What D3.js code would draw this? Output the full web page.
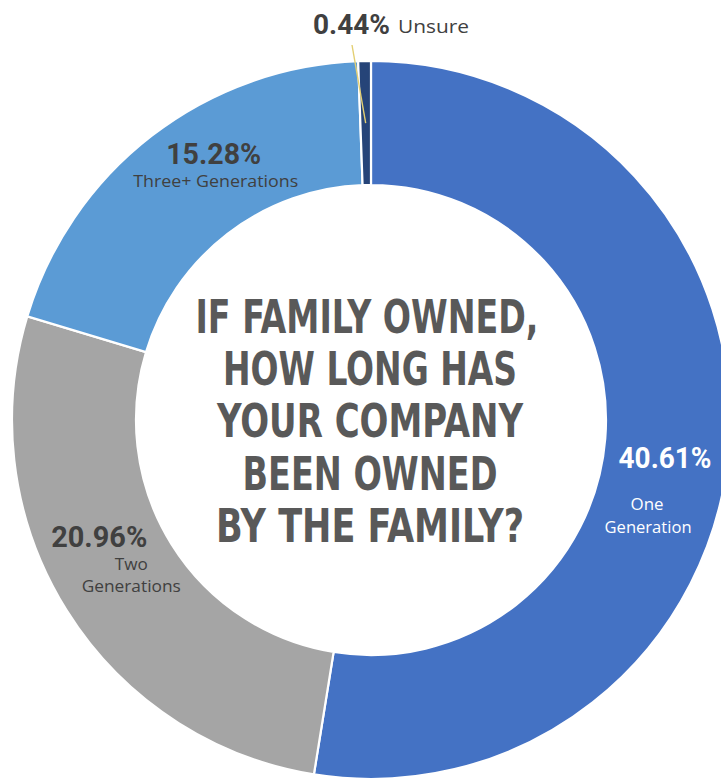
<!DOCTYPE html>
<html>
<head>
<meta charset="utf-8">
<script src="https://cdn.jsdelivr.net/npm/d3@7"></script>
<style>
  html, body { margin: 0; padding: 0; background: #ffffff; }
  svg { display: block; }
</style>
</head>
<body>
<svg id="chart" width="721" height="779"></svg>
<script>
// Survey answers: how long the family has owned the company
const categories = ["One Generation", "Two Generations", "Three+ Generations", "Unsure"];
const percentages = [40.61, 20.96, 15.28, 0.44];
const sliceColors = ["#4472C4", "#A5A5A5", "#5B9BD5", "#264478"];
const titleLines = ["IF FAMILY OWNED,", "HOW LONG HAS", "YOUR COMPANY", "BEEN OWNED", "BY THE FAMILY?"];

// Category names split into the lines shown under each value
const nameLines = [["One", "Generation"], ["Two", "Generations"], ["Three+ Generations"], ["Unsure"]];

const width = 721, height = 779;
const cx = 371, cy = 420;
const outerR = 359, innerR = 235;

const svg = d3.select("#chart");
const g = svg.append("g").attr("transform", `translate(${cx},${cy})`);

const rows = categories.map((c, i) => ({ name: c, value: percentages[i], color: sliceColors[i], lines: nameLines[i] }));

const pie = d3.pie().value(d => d.value).sort(null);
const arc = d3.arc().innerRadius(innerR).outerRadius(outerR);
const labelArc = d3.arc().innerRadius(innerR).outerRadius(outerR);
const arcs = pie(rows);

g.selectAll("path.slice")
  .data(arcs)
  .join("path")
  .attr("class", "slice")
  .attr("d", arc)
  .attr("fill", d => d.data.color)
  .attr("stroke", "#ffffff")
  .attr("stroke-width", 2.2);

// Label layout relative to each slice centroid
const layout = [
  { val: [-2, 24], valW: 93, valColor: "#ffffff", nameColor: "#ffffff", name: [[-20, 66, 33], [-19, 89, 87]] },
  { val: [-20, -31], valW: 96, valColor: "#404040", nameColor: "#404040", name: [[12, -8, 33], [12, 14, 99]] },
  { val: [24, -21], valW: 95, valColor: "#404040", nameColor: "#404040", name: [[26, 2, 165]] },
  { inline: true }
];

const valueFont = "Roboto, 'Liberation Sans', sans-serif";
const nameFont = "'Open Sans', 'Noto Sans', sans-serif";

arcs.forEach((a, i) => {
  const [x, y] = labelArc.centroid(a);
  const L = layout[i];
  if (L.inline) return;
  g.append("text")
    .attr("x", x + L.val[0]).attr("y", y + L.val[1])
    .attr("text-anchor", "middle")
    .attr("font-family", valueFont).attr("font-weight", 700)
    .attr("font-size", 30)
    .attr("fill", L.valColor)
    .attr("textLength", L.valW).attr("lengthAdjust", "spacingAndGlyphs")
    .text(a.data.value.toFixed(2) + "%");
  a.data.lines.forEach((ln, j) => {
    const p = L.name[j];
    g.append("text")
      .attr("x", x + p[0]).attr("y", y + p[1])
      .attr("text-anchor", "middle")
      .attr("font-family", nameFont)
      .attr("font-size", 16)
      .attr("fill", L.nameColor)
      .attr("textLength", p[2]).attr("lengthAdjust", "spacingAndGlyphs")
      .text(ln);
  });
});

// The thin "Unsure" slice is labelled above the ring with a leader line
const unsure = arcs[3];
const [ux, uy] = labelArc.centroid(unsure);
g.append("line")
  .attr("x1", -19).attr("y1", 45 - cy)
  .attr("x2", ux).attr("y2", uy)
  .attr("stroke", "#E3CF72")
  .attr("stroke-width", 1.4);

g.append("text")
  .attr("x", 313 - cx).attr("y", 34 - cy)
  .attr("font-family", valueFont).attr("font-weight", 700)
  .attr("font-size", 27).attr("fill", "#404040")
  .attr("textLength", 77).attr("lengthAdjust", "spacingAndGlyphs")
  .text(unsure.data.value.toFixed(2) + "%");
g.append("text")
  .attr("x", 398 - cx).attr("y", 33 - cy)
  .attr("font-family", nameFont)
  .attr("font-size", 19).attr("fill", "#404040")
  .attr("textLength", 71).attr("lengthAdjust", "spacingAndGlyphs")
  .text(unsure.data.lines[0]);

// Question in the centre of the ring
const titleWidths = [343, 294, 306, 255, 308];
const titleBase = 333 - cy, titleStep = 52.2;
g.selectAll("text.title")
  .data(titleLines)
  .join("text")
  .attr("class", "title")
  .attr("x", (d, i) => i === 0 ? -4 : -1)
  .attr("y", (d, i) => titleBase + i * titleStep)
  .attr("text-anchor", "middle")
  .attr("font-family", "'Liberation Sans Narrow', 'DejaVu Sans Condensed', 'Roboto', sans-serif")
  .attr("font-stretch", "condensed")
  .attr("font-weight", 700)
  .attr("font-size", 47)
  .attr("fill", "#595959")
  .attr("textLength", (d, i) => titleWidths[i])
  .attr("lengthAdjust", "spacingAndGlyphs")
  .text(d => d);
</script>
</body>
</html>
